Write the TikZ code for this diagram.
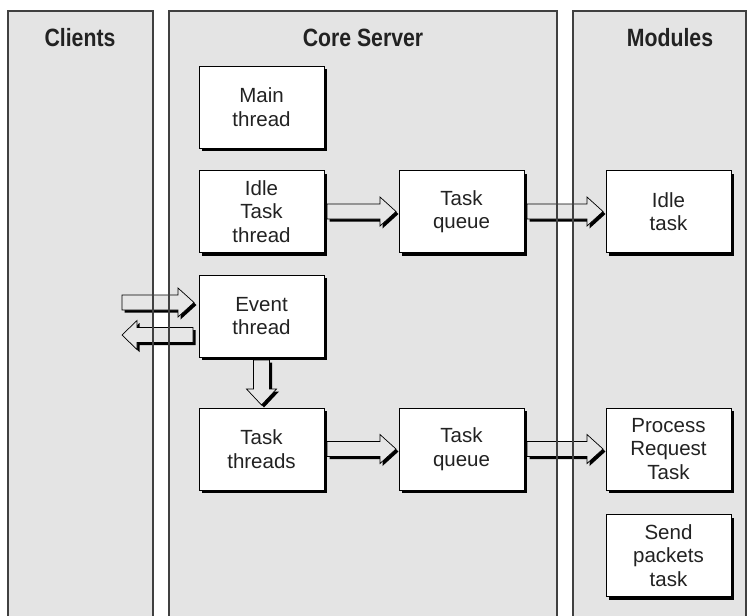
\documentclass[tikz,border=0pt]{standalone}
\usepackage{fontspec}
\usepackage{graphicx}
\setmainfont{Liberation Sans}
\usetikzlibrary{shadows,calc}
\definecolor{panelfill}{HTML}{E4E4E4}
\definecolor{arrfill}{HTML}{E6E6E6}
\definecolor{pline}{HTML}{404040}
\definecolor{txt}{HTML}{222222}

\tikzset{
  panelbox/.style={fill=panelfill, draw=none},
  panelline/.style={draw=pline, line width=1.3pt},
  header/.style={font=\fontsize{25}{28}\selectfont\bfseries, text=txt, anchor=base, inner sep=0pt},
  procbox/.style={draw=black, line width=0.8pt, fill=white, minimum width=125pt, minimum height=82pt,
    inner sep=0pt, outer sep=0pt, align=center, text=txt,
    font=\fontsize{20.5}{23.5}\selectfont,
    drop shadow={shadow xshift=3pt, shadow yshift=-3pt, fill=black, opacity=1}},
  arrbody/.style={fill=arrfill, draw=black, line width=0.7pt, line join=miter},
  arrshadow/.style={fill=black, draw=none}
}

% right-pointing block arrow: #1 start, #2 tip
\newcommand\rpoly[3]{\path[#3] let \p1=(#1), \p2=(#2) in
  (\x1+\aoff,\y1+7.5pt-\aoff) -- (\x2-16pt+\aoff,\y1+7.5pt-\aoff) -- (\x2-16pt+\aoff,\y1+14.5pt-\aoff)
  -- (\x2+\aoff,\y1-\aoff) -- (\x2-16pt+\aoff,\y1-14.5pt-\aoff) -- (\x2-16pt+\aoff,\y1-7.5pt-\aoff)
  -- (\x1+\aoff,\y1-7.5pt-\aoff) -- cycle;}
\newcommand\rarrowblk[2]{\def\aoff{2.5pt}\rpoly{#1}{#2}{arrshadow}\def\aoff{0pt}\rpoly{#1}{#2}{arrbody}}

% left-pointing block arrow: #1 start (right end), #2 tip
\newcommand\lpoly[3]{\path[#3] let \p1=(#1), \p2=(#2) in
  (\x1+\aoff,\y1+7.5pt-\aoff) -- (\x2+15pt+\aoff,\y1+7.5pt-\aoff) -- (\x2+15pt+\aoff,\y1+14.5pt-\aoff)
  -- (\x2+\aoff,\y1-\aoff) -- (\x2+15pt+\aoff,\y1-14.5pt-\aoff) -- (\x2+15pt+\aoff,\y1-7.5pt-\aoff)
  -- (\x1+\aoff,\y1-7.5pt-\aoff) -- cycle;}
\newcommand\larrowblk[2]{\def\aoff{2.5pt}\lpoly{#1}{#2}{arrshadow}\def\aoff{0pt}\lpoly{#1}{#2}{arrbody}}

% down-pointing block arrow: #1 start (top), #2 tip
\newcommand\dpoly[3]{\path[#3] let \p1=(#1), \p2=(#2) in
  (\x1-8pt+\aoff,\y1-\aoff) -- (\x1-8pt+\aoff,\y2+16pt-\aoff) -- (\x1-15pt+\aoff,\y2+16pt-\aoff)
  -- (\x1+\aoff,\y2-\aoff) -- (\x1+15pt+\aoff,\y2+16pt-\aoff) -- (\x1+8pt+\aoff,\y2+16pt-\aoff)
  -- (\x1+8pt+\aoff,\y1-\aoff) -- cycle;}
\newcommand\darrowblk[2]{\def\aoff{2.5pt}\dpoly{#1}{#2}{arrshadow}\def\aoff{0pt}\dpoly{#1}{#2}{arrbody}}

\begin{document}
\begin{tikzpicture}[x=1pt, y=-1pt]
\useasboundingbox (0,0) rectangle (750,616);
\fill[white] (0,0) rectangle (750,616);

% panels
\fill[panelbox] (8,11) rectangle (153,630);
\fill[panelbox] (169,11) rectangle (557,630);
\fill[panelbox] (573,11) rectangle (746,630);

\node[header] (hclients) at (80,46) {\scalebox{0.85}[1]{Clients}};
\node[header] (hcore) at (363,46) {\scalebox{0.85}[1]{Core Server}};
\node[header] (hmodules) at (670,46) {\scalebox{0.85}[1]{Modules}};

% process boxes
\node[procbox] (main) at (261.5,107) {Main\\thread};
\node[procbox] (idlethr) at (261.5,211.5) {Idle\\Task\\thread};
\node[procbox] (tq1) at (461.5,211.5) {Task\\queue};
\node[procbox] (idletask) at (668.5,211.5) {Idle\\task};
\node[procbox] (event) at (261.5,316) {Event\\thread};
\node[procbox] (tthreads) at (261.5,449) {Task\\threads};
\node[procbox] (tq2) at (461.5,449) {Task\\queue};
\node[procbox] (process) at (668.5,449) {Process\\Request\\Task};
\node[procbox] (send) at (668.5,555.5) {Send\\packets\\task};

% client-side ends
\coordinate (cin) at (122,302.5);
\coordinate (cout) at (122,335);

% block arrows
\rarrowblk{[xshift=3pt]idlethr.east}{[xshift=-3pt]tq1.west}
\rarrowblk{[xshift=3pt]tq1.east}{[xshift=-3pt]idletask.west}
\rarrowblk{[xshift=3pt]tthreads.east}{[xshift=-3pt]tq2.west}
\rarrowblk{[xshift=3pt]tq2.east}{[xshift=-3pt]process.west}
\darrowblk{[yshift=-3pt]event.south}{[yshift=3pt]tthreads.north}
\rarrowblk{cin}{$(event.west|-cin)+(-5,0)$}
\larrowblk{$(event.west|-cout)+(-6,0)$}{cout}

% panel borders (open at the bottom)
\draw[panelline] (8,630) -- (8,11) -- (153,11) -- (153,630);
\draw[panelline] (169,630) -- (169,11) -- (557,11) -- (557,630);
\draw[panelline] (573,630) -- (573,11) -- (746,11) -- (746,630);
\end{tikzpicture}
\end{document}
